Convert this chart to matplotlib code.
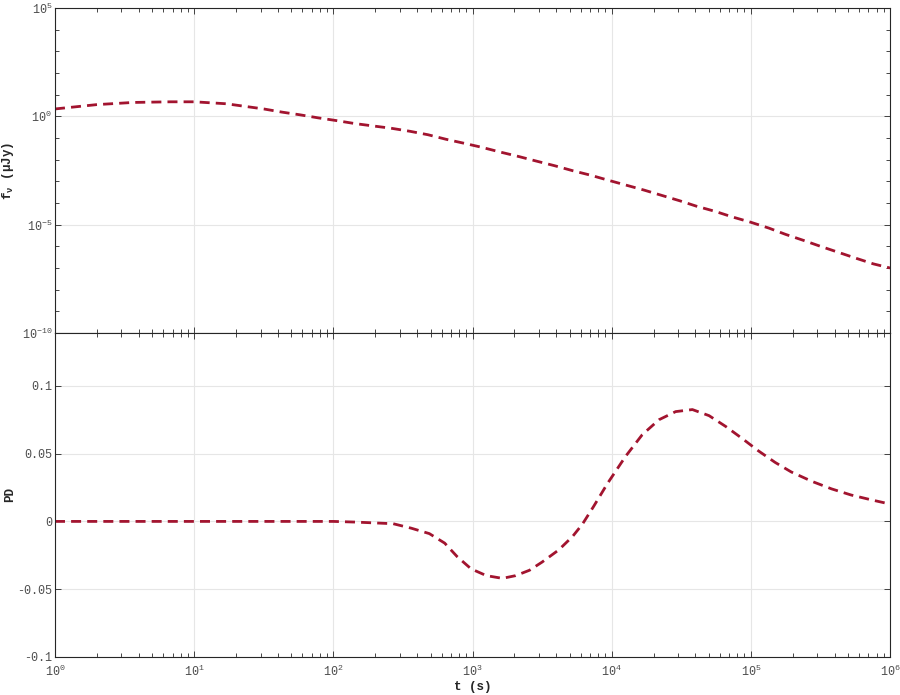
import numpy as np
import matplotlib
matplotlib.use("Agg")
import matplotlib.pyplot as plt
from matplotlib.ticker import FixedLocator, FuncFormatter, NullFormatter

# ---- data ----
# top panel: log10(t [s]) and log10(f_nu [uJy])
flux_log_t = [0.0, 0.3, 0.56, 0.83, 1.0, 1.23, 1.5, 1.63, 1.76, 1.89, 2.02, 2.15, 2.28,
              2.415, 2.55, 2.68, 2.81, 2.94, 3.06, 3.2, 3.335, 3.455, 3.59, 3.72, 3.85,
              3.97, 4.1, 4.23, 4.36, 4.49, 4.61, 4.745, 4.865, 5.0, 5.13, 5.25, 5.38,
              5.5, 5.63, 5.76, 5.88, 6.0]
flux_log_f = [0.34, 0.54, 0.64, 0.67, 0.67, 0.58, 0.34, 0.195, 0.07, -0.07, -0.195, -0.33,
              -0.44, -0.55, -0.69, -0.85, -1.06, -1.245, -1.42, -1.65, -1.86, -2.06, -2.28,
              -2.51, -2.72, -2.94, -3.17, -3.40, -3.65, -3.90, -4.15, -4.39, -4.64, -4.89,
              -5.16, -5.45, -5.73, -6.0, -6.28, -6.56, -6.81, -7.0]

# bottom panel: log10(t [s]) and polarization degree
pd_log_t = [0.0, 1.0, 2.0, 2.16, 2.43, 2.56, 2.69, 2.8, 2.89, 2.99, 3.1, 3.215, 3.31, 3.41,
            3.5, 3.62, 3.72, 3.79, 3.87, 3.97, 4.1, 4.22, 4.34, 4.46, 4.58, 4.70, 4.82,
            4.94, 5.055, 5.175, 5.29, 5.44, 5.58, 5.72, 5.87, 6.0]
pd_vals = [0.0, 0.0, 0.0, -0.0005, -0.0017, -0.005, -0.009, -0.016, -0.026, -0.035, -0.040,
           -0.042, -0.040, -0.036, -0.030, -0.021, -0.011, -0.002, 0.011, 0.028, 0.048, 0.064,
           0.075, 0.081, 0.0825, 0.078, 0.070, 0.061, 0.052, 0.0435, 0.0365, 0.0295, 0.024,
           0.0195, 0.0158, 0.0128]

x_major = [1e0, 1e1, 1e2, 1e3, 1e4, 1e5, 1e6]
top_y_major = [1e-10, 1e-5, 1e0, 1e5]
bot_y_major = [-0.1, -0.05, 0, 0.05, 0.1]
bot_y_labels = ["-0.1", "-0.05", "0", "0.05", "0.1"]

t_flux = 10 ** np.array(flux_log_t)
f_flux = 10 ** np.array(flux_log_f)
t_pd = 10 ** np.array(pd_log_t)

# ---- style ----
plt.rcParams['font.family'] = ['Liberation Mono', 'DejaVu Sans Mono']
plt.rcParams['mathtext.default'] = 'regular'
plt.rcParams['axes.unicode_minus'] = False

line_color = '#A2142F'
spine_color = '#262626'
tick_label_color = '#4d4d4d'
grid_color = '#e6e6e6'
dash = (0, (3.6, 2.2))

fig = plt.figure(figsize=(9, 6.95), dpi=100)
ax1 = fig.add_axes([0.0611, 0.5209, 0.9278, 0.4676])
ax2 = fig.add_axes([0.0611, 0.0547, 0.9278, 0.4662])

ax1.plot(t_flux, f_flux, color=line_color, lw=2.0, ls=dash)
ax2.plot(t_pd, pd_vals, color=line_color, lw=2.0, ls=dash)

minor_x = [m * 10 ** e for e in range(0, 6) for m in range(2, 10)]

def pow_fmt(v, pos):
    e = int(round(np.log10(v)))
    return r'$10^{%d}$' % e

for ax in (ax1, ax2):
    ax.set_xscale('log')
    ax.set_xlim(1, 1e6)
    ax.xaxis.set_major_locator(FixedLocator(x_major))
    ax.xaxis.set_minor_locator(FixedLocator(minor_x))
    ax.xaxis.set_minor_formatter(NullFormatter())
    for s in ax.spines.values():
        s.set_color(spine_color)
        s.set_linewidth(0.8)
    ax.tick_params(which='both', direction='in', top=True, right=True,
                   colors=spine_color, labelcolor=tick_label_color, labelsize=8.5)
    ax.tick_params(axis='y', pad=2)
    ax.tick_params(axis='x', pad=5)
    ax.tick_params(which='major', length=4, width=0.6)
    ax.tick_params(which='minor', length=3, width=0.6)
    ax.grid(True, which='major', color=grid_color, lw=0.8)
    ax.set_axisbelow(True)

ax1.set_yscale('log')
ax1.set_ylim(1e-10, 1e5)
ax1.yaxis.set_major_locator(FixedLocator(top_y_major))
ax1.yaxis.set_minor_locator(FixedLocator([10.0 ** e for e in range(-10, 6)]))
ax1.yaxis.set_minor_formatter(NullFormatter())
ax1.yaxis.set_major_formatter(FuncFormatter(pow_fmt))
ax1.xaxis.set_major_formatter(NullFormatter())

ax2.set_ylim(-0.1, 0.139)
ax2.yaxis.set_major_locator(FixedLocator(bot_y_major))
ax2.set_yticklabels(bot_y_labels)
ax2.xaxis.set_major_formatter(FuncFormatter(pow_fmt))

ax1.set_ylabel(r'f$_{\nu}$ ($\mu$Jy)', fontsize=9, fontweight='bold', color='#262626')
ax2.set_ylabel('PD', fontsize=9, fontweight='bold', color='#262626')
ax2.set_xlabel('t (s)', fontsize=9, fontweight='bold', color='#262626', labelpad=1)
ax1.yaxis.set_label_coords(-0.047, 0.5)
ax2.yaxis.set_label_coords(-0.047, 0.5)

fig.savefig('out.png', dpi=100)
